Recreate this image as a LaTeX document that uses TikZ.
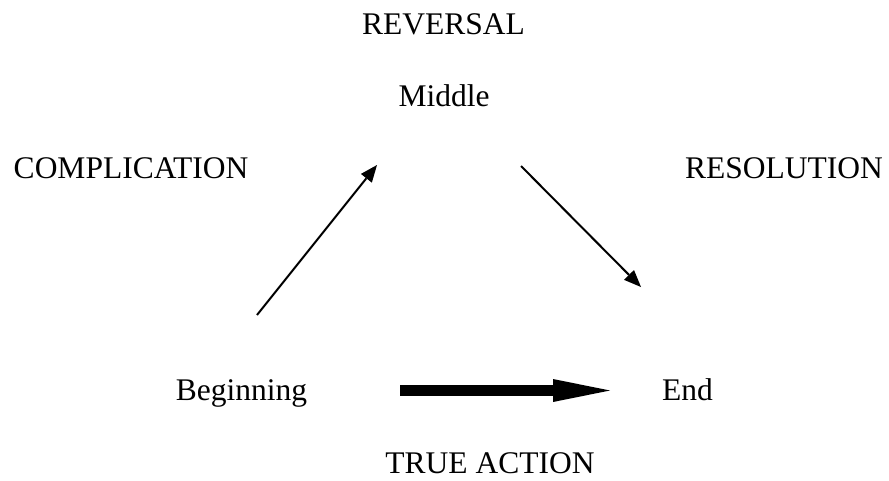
\documentclass[tikz,border=0pt]{standalone}
\usepackage{fontspec}
\setmainfont{Liberation Serif}
\usetikzlibrary{arrows.meta}
\begin{document}
\begin{tikzpicture}[x=1pt,y=-1pt,
  lbl/.style={anchor=base,inner sep=0pt,font=\fontsize{31.5}{36}\selectfont},
  thin/.style={line width=2pt,-{Triangle[length=17pt,width=14pt,line width=0pt]}},
  bold/.style={line width=11pt,-{Triangle[length=57pt,width=23pt,line width=0pt]}}]
\useasboundingbox (0,0) rectangle (889,480);
\node[lbl] (rev) at (443.5,34) {REVERSAL};
\node[lbl] (mid) at (444,106) {Middle};
\node[lbl] (comp) at (131,178) {COMPLICATION};
\node[lbl] (res) at (784,178) {RESOLUTION};
\node[lbl] (beg) at (241.5,400) {Beginning};
\node[lbl] (end) at (687.5,400) {End};
\node[lbl] (ta) at (490,473) {TRUE ACTION};
\coordinate (a1s) at (257,315);
\coordinate (a1e) at (377,165);
\coordinate (a2s) at (521,166);
\coordinate (a2e) at (641,287);
\coordinate (a3s) at (400,390.5);
\coordinate (a3e) at (610,390.5);
\draw[thin] (a1s) -- (a1e);
\draw[thin] (a2s) -- (a2e);
\draw[bold] (a3s) -- (a3e);
\end{tikzpicture}
\end{document}
